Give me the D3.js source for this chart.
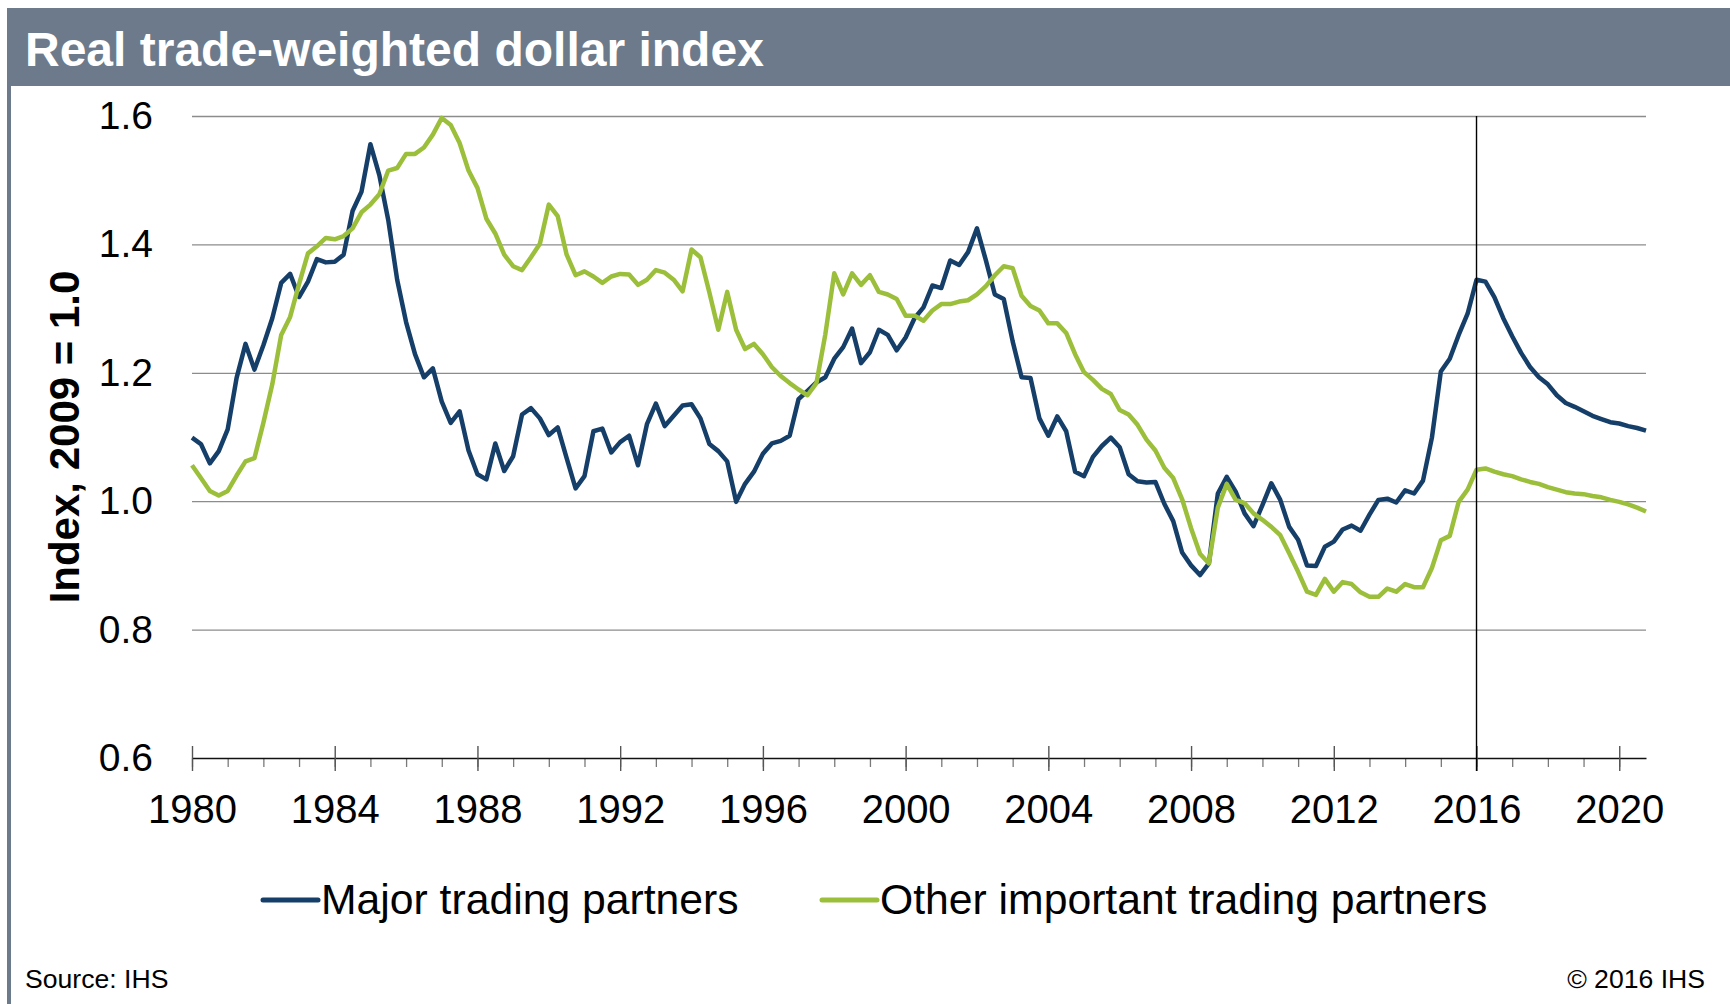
<!DOCTYPE html>
<html lang="en">
<head>
<meta charset="UTF-8">
<title>Real trade-weighted dollar index</title>
<script src="https://d3js.org/d3.v7.min.js"></script>
<style>
  body { margin: 0; background: #fff; }
  svg { display: block; font-family: "Liberation Sans", Arial, sans-serif; }
</style>
</head>
<body>
<div id="chart"></div>
<script>
// quarterly data, 1980Q1 .. 2020Q4
const startYear = 1980;

const major = [
  1.099, 1.089, 1.059, 1.078, 1.112, 1.192, 1.245, 1.205, 1.243, 1.285, 1.340, 1.354, 1.318, 1.342, 1.377, 1.372,
  1.373, 1.384, 1.452, 1.482, 1.556, 1.508, 1.438, 1.345, 1.279, 1.229, 1.193, 1.207, 1.155, 1.122, 1.140, 1.079,
  1.042, 1.034, 1.090, 1.047, 1.070, 1.135, 1.145, 1.129, 1.103, 1.115, 1.067, 1.020, 1.039, 1.109, 1.113, 1.076,
  1.092, 1.102, 1.056, 1.120, 1.152, 1.117, 1.133, 1.149, 1.151, 1.129, 1.089, 1.078, 1.062, 0.999, 1.027, 1.046,
  1.074, 1.090, 1.094, 1.102, 1.159, 1.172, 1.185, 1.193, 1.222, 1.240, 1.269, 1.215, 1.232, 1.267, 1.259, 1.235,
  1.255, 1.285, 1.302, 1.336, 1.332, 1.375, 1.368, 1.388, 1.425, 1.375, 1.322, 1.315, 1.249, 1.193, 1.192, 1.129,
  1.102, 1.132, 1.109, 1.046, 1.039, 1.069, 1.086, 1.099, 1.084, 1.042, 1.031, 1.029, 1.030, 0.996, 0.969, 0.920,
  0.900, 0.885, 0.903, 1.012, 1.038, 1.015, 0.981, 0.961, 0.994, 1.028, 1.002, 0.960, 0.940, 0.900, 0.899, 0.929,
  0.937, 0.956, 0.962, 0.954, 0.979, 1.002, 1.004, 0.998, 1.017, 1.012, 1.032, 1.099, 1.202, 1.222, 1.259, 1.292,
  1.345, 1.342, 1.318, 1.285, 1.257, 1.231, 1.209, 1.193, 1.182, 1.165, 1.153, 1.147, 1.140, 1.133, 1.128, 1.123,
  1.121, 1.117, 1.114, 1.110
];

const other = [
  1.056, 1.036, 1.016, 1.009, 1.016, 1.040, 1.062, 1.067, 1.122, 1.182, 1.259, 1.287, 1.338, 1.386, 1.397, 1.410,
  1.408, 1.413, 1.425, 1.450, 1.462, 1.478, 1.515, 1.519, 1.541, 1.541, 1.551, 1.571, 1.597, 1.586, 1.558, 1.515,
  1.488, 1.440, 1.417, 1.384, 1.366, 1.360, 1.380, 1.401, 1.462, 1.444, 1.384, 1.352, 1.358, 1.350, 1.340, 1.350,
  1.354, 1.353, 1.337, 1.345, 1.360, 1.356, 1.345, 1.327, 1.392, 1.380, 1.325, 1.267, 1.326, 1.267, 1.237, 1.245,
  1.229, 1.209, 1.195, 1.184, 1.174, 1.165, 1.184, 1.260, 1.355, 1.322, 1.355, 1.337, 1.352, 1.326, 1.322, 1.315,
  1.289, 1.289, 1.281, 1.297, 1.307, 1.307, 1.311, 1.313, 1.322, 1.335, 1.352, 1.366, 1.363, 1.320, 1.304, 1.297,
  1.277, 1.277, 1.262, 1.229, 1.201, 1.189, 1.175, 1.167, 1.142, 1.135, 1.119, 1.096, 1.079, 1.052, 1.036, 1.003,
  0.958, 0.918, 0.903, 0.990, 1.027, 1.002, 0.997, 0.981, 0.971, 0.960, 0.947, 0.919, 0.890, 0.859, 0.854, 0.879,
  0.859, 0.874, 0.871, 0.858, 0.851, 0.851, 0.864, 0.859, 0.871, 0.866, 0.866, 0.896, 0.939, 0.946, 0.999, 1.018,
  1.049, 1.051, 1.046, 1.042, 1.039, 1.034, 1.030, 1.027, 1.022, 1.018, 1.014, 1.012, 1.011, 1.008, 1.006, 1.002,
  0.999, 0.995, 0.990, 0.984
];

const quarters = major.map((d, i) => startYear + i / 4);
const labelYears = [1980, 1984, 1988, 1992, 1996, 2000, 2004, 2008, 2012, 2016, 2020];
const minorYears = d3.range(1980, 2021);
const yTicks = [0.6, 0.8, 1.0, 1.2, 1.4, 1.6];
const markerYear = 2016;
const seriesNames = ["Major trading partners", "Other important trading partners"];
const seriesColors = ["#153e69", "#9bbf3a"];

const W = 1730, H = 1004;
const plot = { left: 192, right: 1646, top: 116, bottom: 758 };
const slate = "#6c7a8b";

const svg = d3.select("#chart").append("svg")
  .attr("width", W)
  .attr("height", H);

// header band and left rule
svg.append("rect")
  .attr("x", 7).attr("y", 8)
  .attr("width", W - 7).attr("height", 78)
  .attr("fill", slate);
svg.append("rect")
  .attr("x", 7).attr("y", 86)
  .attr("width", 4).attr("height", H - 86)
  .attr("fill", slate);
svg.append("text")
  .attr("x", 25).attr("y", 66)
  .attr("fill", "#fff")
  .attr("font-size", 48)
  .attr("font-weight", "bold")
  .text("Real trade-weighted dollar index");

const x = d3.scaleLinear()
  .domain([startYear, quarters[quarters.length - 1]])
  .range([plot.left, plot.right]);

const y = d3.scaleLinear()
  .domain([0.6, 1.6])
  .range([plot.bottom, plot.top]);

// gridlines
svg.append("g")
  .attr("transform", `translate(${plot.left},0)`)
  .call(d3.axisLeft(y).tickValues(yTicks.slice(1)).tickSize(-(plot.right - plot.left)).tickFormat(""))
  .call(g => g.select(".domain").remove())
  .call(g => g.selectAll("line").attr("stroke", "#8c8c8c").attr("stroke-width", 1.3));

// y labels
svg.append("g")
  .attr("transform", `translate(${plot.left},0)`)
  .call(d3.axisLeft(y).tickValues(yTicks).tickSize(0).tickPadding(39).tickFormat(d3.format(".1f")))
  .call(g => g.select(".domain").remove())
  .attr("font-family", null)
  .attr("font-size", 39)
  .call(g => g.selectAll("text").attr("fill", "#000"));

// y title
svg.append("text")
  .attr("transform", `translate(79,${(plot.top + plot.bottom) / 2}) rotate(-90)`)
  .attr("text-anchor", "middle")
  .attr("font-size", 42)
  .attr("font-weight", "bold")
  .text("Index, 2009 = 1.0");

// x axis: yearly minor ticks
svg.append("g")
  .attr("transform", `translate(0,${plot.bottom})`)
  .call(d3.axisBottom(x).tickValues(minorYears).tickSize(9).tickSizeOuter(0).tickFormat(""))
  .call(g => g.select(".domain").remove())
  .call(g => g.selectAll("line").attr("stroke", "#7a7a7a").attr("stroke-width", 1.3));

// x axis: labelled ticks crossing the baseline
const xAxis = svg.append("g")
  .attr("transform", `translate(0,${plot.bottom})`)
  .call(d3.axisBottom(x).tickValues(labelYears).tickSize(13).tickSizeOuter(0).tickPadding(24).tickFormat(d3.format("d")))
  .attr("font-family", null)
  .attr("font-size", 40);
xAxis.select(".domain").attr("stroke", "#111").attr("stroke-width", 1.4);
xAxis.selectAll(".tick line").attr("y1", -12).attr("stroke", "#555").attr("stroke-width", 1.4);
xAxis.selectAll(".tick text").attr("fill", "#000");

// series
const line = d3.line()
  .x((d, i) => x(quarters[i]))
  .y(d => y(d));

[major, other].forEach((s, i) => {
  svg.append("path")
    .datum(s)
    .attr("d", line)
    .attr("fill", "none")
    .attr("stroke", seriesColors[i])
    .attr("stroke-width", 4.5)
    .attr("stroke-linejoin", "round");
});

// vertical marker at forecast start
svg.append("line")
  .attr("x1", x(markerYear)).attr("x2", x(markerYear))
  .attr("y1", plot.top).attr("y2", plot.bottom + 13)
  .attr("stroke", "#000")
  .attr("stroke-width", 1.4);

// legend
const legendX = [263, 822];
const legend = svg.append("g").attr("font-size", 42.7);
seriesNames.forEach((name, i) => {
  legend.append("line")
    .attr("x1", legendX[i]).attr("x2", legendX[i] + 55)
    .attr("y1", 900).attr("y2", 900)
    .attr("stroke", seriesColors[i])
    .attr("stroke-width", 5)
    .attr("stroke-linecap", "round");
  legend.append("text")
    .attr("x", legendX[i] + 58)
    .attr("y", 914)
    .text(name);
});

// footer
svg.append("text")
  .attr("x", 25).attr("y", 988)
  .attr("font-size", 26.6)
  .text("Source: IHS");
svg.append("text")
  .attr("x", 1705).attr("y", 988)
  .attr("text-anchor", "end")
  .attr("font-size", 26.6)
  .text("© 2016 IHS");
</script>
</body>
</html>
